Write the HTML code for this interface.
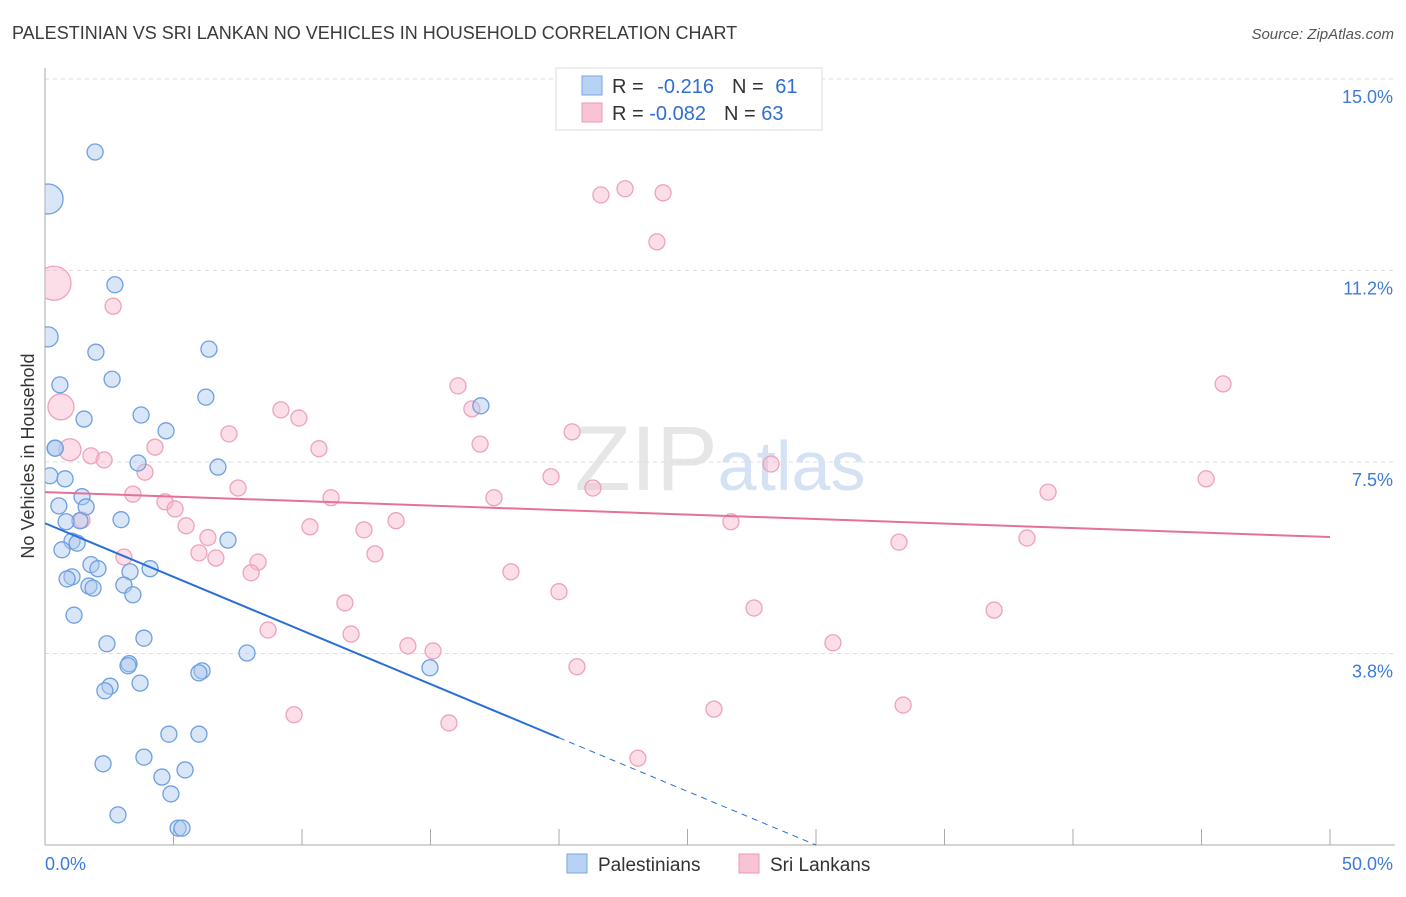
<!DOCTYPE html>
<html><head><meta charset="utf-8"><style>
body{margin:0;background:#fff;font-family:"Liberation Sans",sans-serif;}
svg text{font-family:"Liberation Sans",sans-serif;}
</style></head><body>
<svg id="chart" width="1406" height="892" xmlns="http://www.w3.org/2000/svg">
<text x="12" y="39" font-size="18" fill="#3a3a3a">PALESTINIAN VS SRI LANKAN NO VEHICLES IN HOUSEHOLD CORRELATION CHART</text>
<text x="1394" y="39" font-size="15" fill="#555" text-anchor="end" font-style="italic">Source: ZipAtlas.com</text>
<text x="720" y="490" font-size="92" text-anchor="middle" fill="#e6e6e6" font-family="Liberation Serif">ZIP<tspan fill="#d4e2f4" font-family="Liberation Sans" font-size="70">atlas</tspan></text>
<g id="grid"></g>
<g id="axes"></g>
<clipPath id="cp"><rect x="45" y="60" width="1360" height="800"/></clipPath>
<g id="pts" clip-path="url(#cp)"></g>
<g id="trend"></g>
<text transform="translate(34,456) rotate(-90)" font-size="18" fill="#333" text-anchor="middle">No Vehicles in Household</text>
<g>
<rect x="556" y="68" width="266" height="62" fill="#fff" stroke="#ddd"/>
<rect x="582" y="76" width="20" height="19" fill="#b8d2f4" stroke="#7aa6e0"/>
<rect x="582" y="103" width="20" height="19" fill="#f8c4d4" stroke="#ec9ab4"/>
<text x="612" y="93" font-size="20" fill="#333">R = <tspan fill="#2f6fd0" dx="8">-0.216</tspan><tspan dx="18" fill="#333">N = </tspan><tspan fill="#2f6fd0" dx="6">61</tspan></text>
<text x="612" y="120" font-size="20" fill="#333">R = <tspan fill="#2f6fd0">-0.082</tspan><tspan dx="18" fill="#333">N = </tspan><tspan fill="#2f6fd0">63</tspan></text>
</g>
<g>
<rect x="567" y="854" width="20" height="19" fill="#b8d2f4" stroke="#7aa6e0"/>
<text x="598" y="871" font-size="19" fill="#333">Palestinians</text>
<rect x="739" y="854" width="20" height="19" fill="#f8c4d4" stroke="#ec9ab4"/>
<text x="770" y="871" font-size="19" fill="#333">Sri Lankans</text>
</g>
</svg>
<script>
const xTicks=[0,5,10,15,20,25,30,35,40,45,50];
const yTicks=[3.75,7.5,11.25,15];
const yTickLabels=["3.8%","7.5%","11.2%","15.0%"];
const blueX=[1.95,0.12,2.72,0.12,1.98,6.38,2.61,0.58,6.26,16.96,1.52,3.74,4.71,0.39,3.62,6.73,0.19,0.78,1.44,0.54,1.6,1.36,0.82,2.96,1.05,1.25,7.12,0.66,1.79,2.06,4.09,3.31,1.05,0.86,1.71,1.87,3.07,3.42,1.13,3.85,2.41,7.86,3.27,3.23,6.11,5.99,14.98,2.53,3.7,2.33,4.82,5.99,3.85,2.26,4.55,5.45,4.9,2.84,5.18,5.33,0.4];
const blueY=[13.57,12.65,10.97,9.95,9.65,9.71,9.12,9.01,8.77,8.6,8.34,8.42,8.11,7.77,7.48,7.4,7.23,7.17,6.82,6.64,6.62,6.35,6.33,6.37,5.95,5.91,5.97,5.78,5.49,5.41,5.41,5.35,5.25,5.21,5.07,5.03,5.09,4.9,4.5,4.05,3.94,3.76,3.55,3.51,3.41,3.37,3.47,3.11,3.17,3.02,2.17,2.17,1.72,1.59,1.33,1.47,1.0,0.59,0.33,0.33,7.77];
const blueR=[8,15,8,10,8,8,8,8,8,8,8,8,8,8,8,8,8,8,8,8,8,8,8,8,8,8,8,8,8,8,8,8,8,8,8,8,8,8,8,8,8,8,8,8,8,8,8,8,8,8,8,8,8,8,8,8,8,8,8,8,8];
const pinkX=[0.35,2.65,0.62,0.97,1.79,2.3,3.89,4.28,3.42,4.67,5.06,1.44,5.49,7.16,7.51,6.34,5.99,6.65,3.07,8.29,8.02,8.68,9.18,9.88,10.66,10.31,11.13,11.67,11.91,12.41,12.84,13.66,9.69,14.12,15.1,15.72,16.07,16.61,16.93,17.47,18.13,19.69,20.0,20.51,21.32,20.7,21.63,22.57,24.05,23.81,23.07,26.03,26.69,27.59,28.25,30.66,33.23,33.39,36.93,38.21,39.03,45.18,45.84];
const pinkY=[11.0,10.55,8.58,7.74,7.62,7.54,7.3,7.79,6.87,6.72,6.58,6.36,6.25,8.05,6.99,6.02,5.72,5.62,5.64,5.54,5.33,4.21,8.52,8.36,7.76,6.23,6.8,4.74,4.13,6.17,5.7,6.35,2.55,3.9,3.8,2.39,8.99,8.54,7.85,6.8,5.35,7.21,4.96,8.09,6.99,3.49,12.73,12.85,12.77,11.81,1.7,2.66,6.33,4.64,7.46,3.96,5.93,2.74,4.6,6.01,6.91,7.17,9.03];
const pinkR=[17,8,13,11,8,8,8,8,8,8,8,8,8,8,8,8,8,8,8,8,8,8,8,8,8,8,8,8,8,8,8,8,8,8,8,8,8,8,8,8,8,8,8,8,8,8,8,8,8,8,8,8,8,8,8,8,8,8,8,8,8,8,8];
const blueTrend=[0,6.3,20,2.1,30,0];
const pinkTrend=[0,6.91,50,6.03];
const NS="http://www.w3.org/2000/svg";
const X=v=>45+v*25.7, Y=v=>845-v*51.07;
function mk(tag,attrs,parent){const e=document.createElementNS(NS,tag);for(const k in attrs)e.setAttribute(k,attrs[k]);document.getElementById(parent).appendChild(e);return e;}
yTicks.forEach((t,i)=>{
 const l=mk('line',{x1:45,x2:1395,y1:Y(t),y2:Y(t),stroke:'#ddd','stroke-dasharray':'4,4'},'grid');
 
 
 const tx=mk('text',{x:1393,y:Y(t)+24,'font-size':18,fill:'#3d7bd6','text-anchor':'end'},'axes');
 tx.textContent=yTickLabels[i];
 
 
});
mk('line',{x1:45,x2:45,y1:68,y2:845,stroke:'#aaa'},'axes');
mk('line',{x1:45,x2:1395,y1:845,y2:845,stroke:'#aaa'},'axes');
xTicks.forEach(t=>{
 const l=mk('line',{x1:X(t),x2:X(t),y1:829,y2:845,stroke:'#aaa'},'axes');
 
 
});
const xl=mk('text',{x:45,y:870,'font-size':18,fill:'#3d7bd6'},'axes');xl.textContent=xTicks[0].toFixed(1)+'%';


const xr=mk('text',{x:1393,y:870,'font-size':18,fill:'#3d7bd6','text-anchor':'end'},'axes');xr.textContent=xTicks[xTicks.length-1].toFixed(1)+'%';


pinkX.forEach((v,i)=>{
 const c=mk('circle',{cx:X(v),cy:Y(pinkY[i]),r:pinkR[i],fill:'rgba(246,182,202,0.45)',stroke:'#eea2bb','stroke-width':1.3},'pts');
 
 
});
blueX.forEach((v,i)=>{
 const c=mk('circle',{cx:X(v),cy:Y(blueY[i]),r:blueR[i],fill:'rgba(170,200,240,0.45)',stroke:'#6f9fe0','stroke-width':1.3},'pts');
 
 
});
const b1=mk('line',{x1:X(blueTrend[0]),y1:Y(blueTrend[1]),x2:X(blueTrend[2]),y2:Y(blueTrend[3]),stroke:'#2a6fd6','stroke-width':2},'trend');


const b2=mk('line',{x1:X(blueTrend[2]),y1:Y(blueTrend[3]),x2:X(blueTrend[4]),y2:Y(blueTrend[5]),stroke:'#2a6fd6','stroke-width':1,'stroke-dasharray':'6,5'},'trend');


const p1=mk('line',{x1:X(pinkTrend[0]),y1:Y(pinkTrend[1]),x2:X(pinkTrend[2]),y2:Y(pinkTrend[3]),stroke:'#e5719a','stroke-width':2},'trend');


</script>
</body></html>
